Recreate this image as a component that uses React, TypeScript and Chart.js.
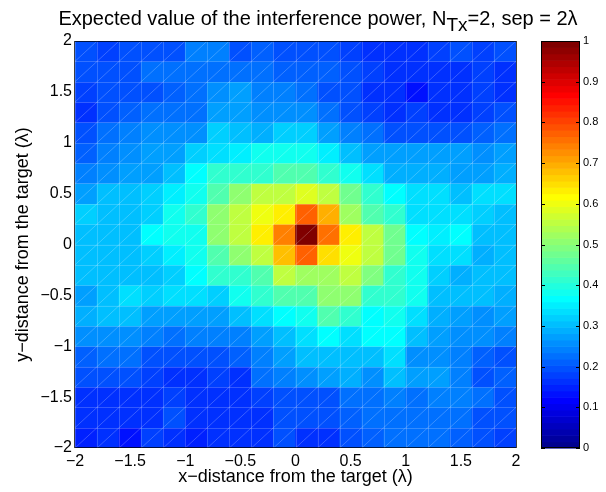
import React, { useEffect, useRef } from 'react';
import { Chart, registerables } from 'chart.js';

Chart.register(...registerables);

const FONT = '"Liberation Sans", Arial, Helvetica, sans-serif';

// Lower-left corners of the 20 x 20 cells
const xCells = [-2, -1.8, -1.6, -1.4, -1.2, -1, -0.8, -0.6, -0.4, -0.2, 0, 0.2, 0.4, 0.6, 0.8, 1, 1.2, 1.4, 1.6, 1.8];
const yCells = [1.8, 1.6, 1.4, 1.2, 1, 0.8, 0.6, 0.4, 0.2, 0, -0.2, -0.4, -0.6, -0.8, -1, -1.2, -1.4, -1.6, -1.8, -2];
const cellSize = 0.2;

// Expected interference power, one row per yCells entry (top row first), columns follow xCells
const interferencePower: number[][] = [
  [0.19, 0.18, 0.19, 0.20, 0.20, 0.24, 0.24, 0.20, 0.21, 0.20, 0.20, 0.20, 0.18, 0.17, 0.17, 0.17, 0.18, 0.19, 0.18, 0.19],
  [0.20, 0.20, 0.19, 0.23, 0.22, 0.22, 0.23, 0.23, 0.22, 0.21, 0.21, 0.21, 0.19, 0.18, 0.17, 0.17, 0.16, 0.17, 0.18, 0.17],
  [0.18, 0.19, 0.20, 0.20, 0.21, 0.22, 0.26, 0.27, 0.24, 0.24, 0.23, 0.20, 0.19, 0.17, 0.16, 0.13, 0.16, 0.17, 0.18, 0.16],
  [0.17, 0.19, 0.21, 0.22, 0.23, 0.23, 0.27, 0.27, 0.25, 0.26, 0.26, 0.23, 0.20, 0.18, 0.17, 0.18, 0.17, 0.17, 0.18, 0.20],
  [0.20, 0.23, 0.24, 0.25, 0.25, 0.26, 0.32, 0.31, 0.29, 0.32, 0.32, 0.27, 0.24, 0.23, 0.20, 0.19, 0.20, 0.20, 0.21, 0.23],
  [0.21, 0.24, 0.25, 0.27, 0.27, 0.32, 0.34, 0.35, 0.38, 0.39, 0.38, 0.35, 0.31, 0.27, 0.27, 0.27, 0.27, 0.27, 0.26, 0.27],
  [0.24, 0.26, 0.28, 0.28, 0.30, 0.36, 0.41, 0.42, 0.42, 0.45, 0.45, 0.42, 0.39, 0.34, 0.29, 0.29, 0.29, 0.27, 0.28, 0.29],
  [0.27, 0.30, 0.31, 0.32, 0.35, 0.39, 0.45, 0.50, 0.55, 0.55, 0.58, 0.56, 0.48, 0.42, 0.36, 0.34, 0.33, 0.31, 0.33, 0.33],
  [0.32, 0.30, 0.31, 0.32, 0.38, 0.41, 0.50, 0.56, 0.60, 0.63, 0.77, 0.70, 0.53, 0.45, 0.41, 0.34, 0.33, 0.33, 0.32, 0.31],
  [0.31, 0.31, 0.31, 0.36, 0.38, 0.39, 0.50, 0.56, 0.63, 0.74, 1.00, 0.75, 0.63, 0.55, 0.47, 0.37, 0.35, 0.36, 0.31, 0.31],
  [0.31, 0.31, 0.31, 0.32, 0.35, 0.39, 0.44, 0.50, 0.56, 0.68, 0.77, 0.65, 0.60, 0.55, 0.47, 0.38, 0.34, 0.33, 0.29, 0.31],
  [0.30, 0.31, 0.31, 0.31, 0.32, 0.37, 0.41, 0.42, 0.45, 0.56, 0.53, 0.52, 0.55, 0.49, 0.42, 0.38, 0.32, 0.29, 0.31, 0.31],
  [0.28, 0.31, 0.33, 0.32, 0.33, 0.33, 0.32, 0.38, 0.41, 0.44, 0.45, 0.50, 0.50, 0.42, 0.41, 0.38, 0.30, 0.30, 0.31, 0.29],
  [0.29, 0.31, 0.30, 0.27, 0.27, 0.27, 0.28, 0.31, 0.33, 0.37, 0.39, 0.44, 0.42, 0.36, 0.39, 0.33, 0.29, 0.27, 0.26, 0.27],
  [0.25, 0.25, 0.25, 0.24, 0.23, 0.24, 0.24, 0.24, 0.27, 0.31, 0.34, 0.36, 0.34, 0.36, 0.36, 0.31, 0.28, 0.26, 0.25, 0.24],
  [0.21, 0.23, 0.22, 0.20, 0.20, 0.20, 0.20, 0.21, 0.24, 0.27, 0.31, 0.31, 0.31, 0.31, 0.33, 0.26, 0.26, 0.24, 0.21, 0.20],
  [0.19, 0.20, 0.19, 0.18, 0.16, 0.17, 0.18, 0.17, 0.22, 0.24, 0.26, 0.27, 0.29, 0.26, 0.30, 0.27, 0.27, 0.24, 0.20, 0.21],
  [0.16, 0.16, 0.17, 0.17, 0.18, 0.17, 0.16, 0.17, 0.18, 0.20, 0.20, 0.20, 0.22, 0.22, 0.24, 0.23, 0.24, 0.24, 0.22, 0.20],
  [0.16, 0.16, 0.17, 0.17, 0.19, 0.17, 0.17, 0.17, 0.17, 0.19, 0.20, 0.20, 0.21, 0.22, 0.23, 0.23, 0.23, 0.23, 0.20, 0.19],
  [0.15, 0.16, 0.14, 0.18, 0.17, 0.15, 0.17, 0.16, 0.17, 0.20, 0.17, 0.17, 0.20, 0.21, 0.22, 0.22, 0.22, 0.21, 0.19, 0.18],
];

const axisTicks = [-2, -1.5, -1, -0.5, 0, 0.5, 1, 1.5, 2];
const colorbarTicks = [0, 0.1, 0.2, 0.3, 0.4, 0.5, 0.6, 0.7, 0.8, 0.9, 1];
const colorLevels = 64;

const titleMain = 'Expected value of the interference power, N';
const titleSub = 'Tx';
const titleEnd = '=2, sep = 2\u03bb';
const xLabel = 'x\u2212distance from the target (\u03bb)';
const yLabel = 'y\u2212distance from the target (\u03bb)';

// MATLAB jet(64)
function jet(k: number): string {
  const k1 = k + 1;
  let r = 0, g = 0, b = 0;
  if (k1 <= 8) b = (k1 + 8) / 16;
  else if (k1 <= 24) b = 1;
  else if (k1 <= 39) b = (40 - k1) / 16;
  if (k1 >= 9 && k1 <= 24) g = (k1 - 8) / 16;
  else if (k1 >= 25 && k1 <= 40) g = 1;
  else if (k1 >= 41 && k1 <= 55) g = (56 - k1) / 16;
  if (k1 >= 25 && k1 <= 40) r = (k1 - 24) / 16;
  else if (k1 >= 41 && k1 <= 56) r = 1;
  else if (k1 >= 57) r = (72 - k1) / 16;
  return `rgb(${Math.round(r * 255)},${Math.round(g * 255)},${Math.round(b * 255)})`;
}

function colorFor(v: number): string {
  const k = Math.max(0, Math.min(colorLevels - 1, Math.floor(v * colorLevels)));
  return jet(k);
}

function fmt(v: number): string {
  const s = String(Math.round(v * 10) / 10);
  return s.replace('-', '\u2212');
}

const decorPlugin = {
  id: 'decor',
  afterDatasetsDraw(chart: any) {
    const { ctx, chartArea: a, scales } = chart;
    const xs = scales.x, ys = scales.y, cb = scales.cb;
    ctx.save();
    // cell edges
    ctx.save();
    ctx.beginPath();
    ctx.rect(a.left, a.top, a.right - a.left, a.bottom - a.top);
    ctx.clip();
    ctx.strokeStyle = 'rgba(255,255,255,0.2)';
    ctx.lineWidth = 1;
    ctx.beginPath();
    for (const x0 of xCells) {
      const px = Math.round(xs.getPixelForValue(x0)) + 0.5;
      ctx.moveTo(px, a.top); ctx.lineTo(px, a.bottom);
    }
    for (const y0 of yCells) {
      const py = Math.round(ys.getPixelForValue(y0)) + 0.5;
      ctx.moveTo(a.left, py); ctx.lineTo(a.right, py);
    }
    ctx.stroke();
    // triangle diagonals
    ctx.strokeStyle = 'rgba(255,255,255,0.32)';
    ctx.lineWidth = 0.7;
    ctx.beginPath();
    for (const x0 of xCells) {
      for (const y0 of yCells) {
        ctx.moveTo(xs.getPixelForValue(x0), ys.getPixelForValue(y0));
        ctx.lineTo(xs.getPixelForValue(x0 + cellSize), ys.getPixelForValue(y0 + cellSize));
      }
    }
    ctx.stroke();
    ctx.restore();

    // axes box
    ctx.strokeStyle = 'rgba(0,0,0,0.75)';
    ctx.lineWidth = 1;
    ctx.strokeRect(a.left - 0.5, a.top + 0.5, a.right - a.left + 1, a.bottom - a.top - 1);

    // colorbar
    const bx0 = cb.left + 25;
    const bx1 = cb.left + 64;
    for (let k = 0; k < colorLevels; k++) {
      const yTop = cb.getPixelForValue((k + 1) / colorLevels);
      const yBot = cb.getPixelForValue(k / colorLevels);
      ctx.fillStyle = jet(k);
      ctx.fillRect(bx0, yTop, bx1 - bx0, yBot - yTop + 0.6);
    }
    ctx.strokeStyle = '#000';
    ctx.lineWidth = 1;
    ctx.strokeRect(bx0 + 0.5, cb.top + 0.5, bx1 - bx0 - 1, cb.bottom - cb.top - 1);
    ctx.beginPath();
    for (const v of colorbarTicks) {
      const py = Math.round(cb.getPixelForValue(v)) + 0.5;
      ctx.moveTo(bx0, py); ctx.lineTo(bx0 + 4, py);
      ctx.moveTo(bx1 - 4, py); ctx.lineTo(bx1, py);
    }
    ctx.stroke();

    // title with subscript
    ctx.fillStyle = '#000';
    ctx.textBaseline = 'alphabetic';
    ctx.textAlign = 'left';
    ctx.font = `20px ${FONT}`;
    const w1 = ctx.measureText(titleMain).width;
    const w3 = ctx.measureText(titleEnd).width;
    ctx.font = `19px ${FONT}`;
    const w2 = ctx.measureText(titleSub).width;
    const total = w1 + w2 + w3;
    const center = 318;
    let tx = center - total / 2;
    const base = 25;
    ctx.font = `20px ${FONT}`;
    ctx.fillText(titleMain, tx, base);
    tx += w1;
    ctx.font = `19px ${FONT}`;
    ctx.fillText(titleSub, tx, base + 6);
    tx += w2;
    ctx.font = `20px ${FONT}`;
    ctx.fillText(titleEnd, tx, base);
    ctx.restore();
  },
};

export default function App() {
  const ref = useRef<HTMLCanvasElement>(null);
  useEffect(() => {
    if (!ref.current) return;
    Chart.defaults.font.family = FONT;
    Chart.defaults.color = '#000';
    const datasets = yCells.map((y0, r) => ({
      type: 'bar' as const,
      label: `row ${y0}`,
      data: xCells.map((x0) => ({ x: x0 + cellSize / 2, y: [y0, y0 + cellSize] })),
      backgroundColor: interferencePower[r].map(colorFor),
      borderWidth: 0,
      barPercentage: 1,
      categoryPercentage: 1,
      grouped: false,
    }));
    const chart = new Chart(ref.current, {
      type: 'bar',
      data: { datasets: datasets as any },
      plugins: [decorPlugin],
      options: {
        responsive: false,
        animation: false,
        events: [],
        layout: { padding: { top: 41, left: 0, right: 0, bottom: 0 } },
        plugins: { legend: { display: false }, tooltip: { enabled: false }, title: { display: false } },
        scales: {
          x: {
            type: 'linear',
            position: 'bottom',
            min: -2,
            max: 2,
            offset: false,
            grid: { display: false, drawTicks: false },
            border: { display: false },
            afterBuildTicks: (s: any) => { s.ticks = axisTicks.map((v) => ({ value: v })); },
            afterFit: (s: any) => { s.height = 44; },
            ticks: {
              autoSkip: false,
              maxRotation: 0,
              padding: 4,
              font: { size: 16 },
              color: '#000',
              callback: (v: any) => fmt(Number(v)),
            },
            title: { display: true, text: xLabel, font: { size: 18 }, color: '#000', padding: { top: 0, bottom: 4 } },
          },
          y: {
            type: 'linear',
            position: 'left',
            min: -2,
            max: 2,
            grid: { display: false, drawTicks: false },
            border: { display: false },
            afterBuildTicks: (s: any) => { s.ticks = axisTicks.map((v) => ({ value: v })); },
            afterFit: (s: any) => { s.width = 75; },
            ticks: {
              autoSkip: false,
              padding: 3,
              font: { size: 16 },
              color: '#000',
              callback: (v: any) => fmt(Number(v)),
            },
            title: { display: true, text: yLabel, font: { size: 18 }, color: '#000', padding: { top: 12, bottom: 0 } },
          },
          cb: {
            type: 'linear',
            position: 'right',
            min: 0,
            max: 1,
            grid: { display: true, drawOnChartArea: false, drawTicks: true, tickLength: 64, color: 'rgba(0,0,0,0)' },
            border: { display: false },
            afterBuildTicks: (s: any) => { s.ticks = colorbarTicks.map((v) => ({ value: v })); },
            afterFit: (s: any) => { s.width = 90; },
            ticks: {
              autoSkip: false,
              padding: 3,
              font: { size: 11 },
              color: '#000',
              callback: (v: any) => fmt(Number(v)),
            },
          },
        },
      } as any,
    });
    return () => chart.destroy();
  }, []);
  return (
    <div style={{ position: 'absolute', left: 0, top: 0, width: 606, height: 492, background: '#fff' }}>
      <canvas ref={ref} width={606} height={492} style={{ display: 'block', width: 606, height: 492 }} />
    </div>
  );
}
